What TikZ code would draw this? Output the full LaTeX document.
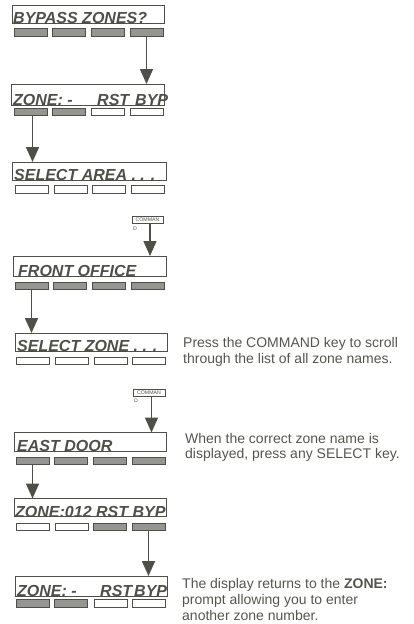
\documentclass[tikz,border=0pt]{standalone}
\usepackage{fontspec}
\setmainfont{Liberation Sans}
\usetikzlibrary{arrows.meta}
\definecolor{ink}{HTML}{4F4F4A}
\definecolor{keyfill}{HTML}{959591}
\definecolor{txt}{HTML}{55554F}
\tikzset{
  dispbox/.style={draw=ink, line width=0.9pt, inner sep=0pt, outer sep=0pt, anchor=north west},
  keybase/.style={draw=ink, line width=0.8pt, inner sep=0pt, outer sep=0pt, anchor=north west, minimum width=33pt, minimum height=7.5pt},
  keyd/.style={keybase, fill=keyfill},
  keyw/.style={keybase, fill=white},
  lcd/.style={font=\fontsize{16}{16}\selectfont\bfseries\itshape, text=ink, inner sep=0pt, anchor=base west},
  arr/.style={draw=ink, line width=1.6pt, -{Triangle[length=15pt,width=13pt]}},
  note/.style={font=\fontsize{14}{16}\selectfont, text=txt, anchor=base west, inner sep=0pt},
  cmdkey/.style={draw=ink, line width=0.6pt, minimum width=31pt, minimum height=6.5pt, inner sep=0pt, outer sep=0pt, anchor=north west, font=\fontsize{5.2}{5.5}\selectfont, text=ink},
  cmdd/.style={font=\fontsize{5.2}{5.5}\selectfont, text=ink, inner sep=0pt, anchor=base west}
}
\begin{document}
\begin{tikzpicture}[x=1pt,y=-1pt]
\useasboundingbox (0,0) rectangle (413,624);

% Display 1
\node[dispbox, minimum width=152pt, minimum height=18pt] (d1) at (12,5) {};
\node[lcd] (d1t) at (13,23) {BYPASS ZONES?};
\foreach \i/\x/\s in {1/14/keyd,2/52/keyd,3/91/keyd,4/130/keyd}
  \node[\s, minimum height=8pt] (d1k\i) at (\x,28) {};

% Display 2
\node[dispbox, minimum width=153pt, minimum height=21pt] (d2) at (11,84) {};
\node[lcd] (d2a) at (13,105.5) {ZONE: -};
\node[lcd] (d2b) at (97,105.5) {RST};
\node[lcd] (d2c) at (135,105.5) {BYP};
\foreach \i/\x/\s in {1/14/keyd,2/52/keyd,3/91/keyw,4/130/keyw}
  \node[\s, minimum height=7pt] (d2k\i) at (\x,108) {};

% Display 3
\node[dispbox, minimum width=154pt, minimum height=18pt] (d3) at (12,162) {};
\node[lcd] (d3t) at (14,180) {SELECT AREA . . .};
\foreach \i/\x/\s in {1/15/keyw,2/54/keyw,3/92/keyw,4/131/keyw}
  \node[\s, minimum height=8pt] (d3k\i) at (\x,185) {};

% COMMAND key 1
\node[cmdkey] (c1) at (132,216.5) {COMMAN};
\node[cmdd] (c1d) at (133,230.5) {D};

% Display 4
\node[dispbox, minimum width=153pt, minimum height=20pt] (d4) at (13,256) {};
\node[lcd] (d4t) at (18,276.5) {FRONT OFFICE};
\foreach \i/\x/\s in {1/15/keyd,2/53/keyd,3/92/keyd,4/131/keyd}
  \node[\s, minimum height=7pt] (d4k\i) at (\x,282) {};

% Display 5
\node[dispbox, minimum width=152pt, minimum height=18pt] (d5) at (15,333) {};
\node[lcd] (d5t) at (17,351) {SELECT ZONE . . .};
\foreach \i/\x/\s in {1/16/keyw,2/55/keyw,3/94/keyw,4/132/keyw}
  \node[\s, minimum height=7.5pt] (d5k\i) at (\x,357) {};
\node[note] (n1a) at (183,347) {Press the COMMAND key to scroll};
\node[note] (n1b) at (183,363) {through the list of all zone names.};

% COMMAND key 2
\node[cmdkey, minimum width=32pt, minimum height=7pt] (c2) at (133,389) {COMMAN};
\node[cmdd] (c2d) at (134,402.5) {D};

% Display 6
\node[dispbox, minimum width=152pt, minimum height=18.5pt] (d6) at (14,432.5) {};
\node[lcd] (d6t) at (17,451.5) {EAST DOOR};
\foreach \i/\x/\s in {1/16/keyd,2/54/keyd,3/93/keyd,4/132/keyd}
  \node[\s, minimum height=7.5pt] (d6k\i) at (\x,457) {};
\node[note] (n2a) at (185,443) {When the correct zone name is};
\node[note] (n2b) at (185,458) {displayed, press any SELECT key.};

% Display 7
\node[dispbox, minimum width=152pt, minimum height=18pt] (d7) at (14,498.5) {};
\node[lcd] (d7t) at (15,517) {ZONE:012 RST BYP};
\foreach \i/\x/\s in {1/16/keyw,2/55/keyw,3/93/keyd,4/132/keyd}
  \node[\s, minimum height=7.5pt] (d7k\i) at (\x,523) {};

% Display 8
\node[dispbox, minimum width=152pt, minimum height=20pt] (d8) at (15,576) {};
\node[lcd] (d8a) at (17,596) {ZONE: -};
\node[lcd] (d8b) at (100,596) {RST};
\node[lcd] (d8c) at (134,596) {BYP};
\foreach \i/\x/\s in {1/16/keyd,2/54/keyd,3/94/keyw,4/132/keyw}
  \node[\s, minimum height=8pt] (d8k\i) at (\x,599.5) {};
\node[note] (n3a) at (182,588) {The display returns to the \textbf{ZONE:}};
\node[note] (n3b) at (182,604) {prompt allowing you to enter};
\node[note] (n3c) at (182,620) {another zone number.};

% Arrows
\draw[arr] (d1k4.south) -- (d1k4.south |- d2.north);
\draw[arr] ([xshift=2pt]d2k1.south) -- ([xshift=2pt]d2k1.south |- d3.north);
\draw[arr] ([xshift=2.5pt]c1.south) -- ([xshift=2.5pt]c1.south |- d4.north);
\draw[arr] (d4k1.south) -- (d4k1.south |- d5.north);
\draw[arr] ([xshift=2.5pt]c2.south) -- ([xshift=2.5pt]c2.south |- d6.north);
\draw[arr] (d6k1.south) -- (d6k1.south |- d7.north);
\draw[arr] (d7k4.south) -- (d7k4.south |- d8.north);
\end{tikzpicture}
\end{document}
